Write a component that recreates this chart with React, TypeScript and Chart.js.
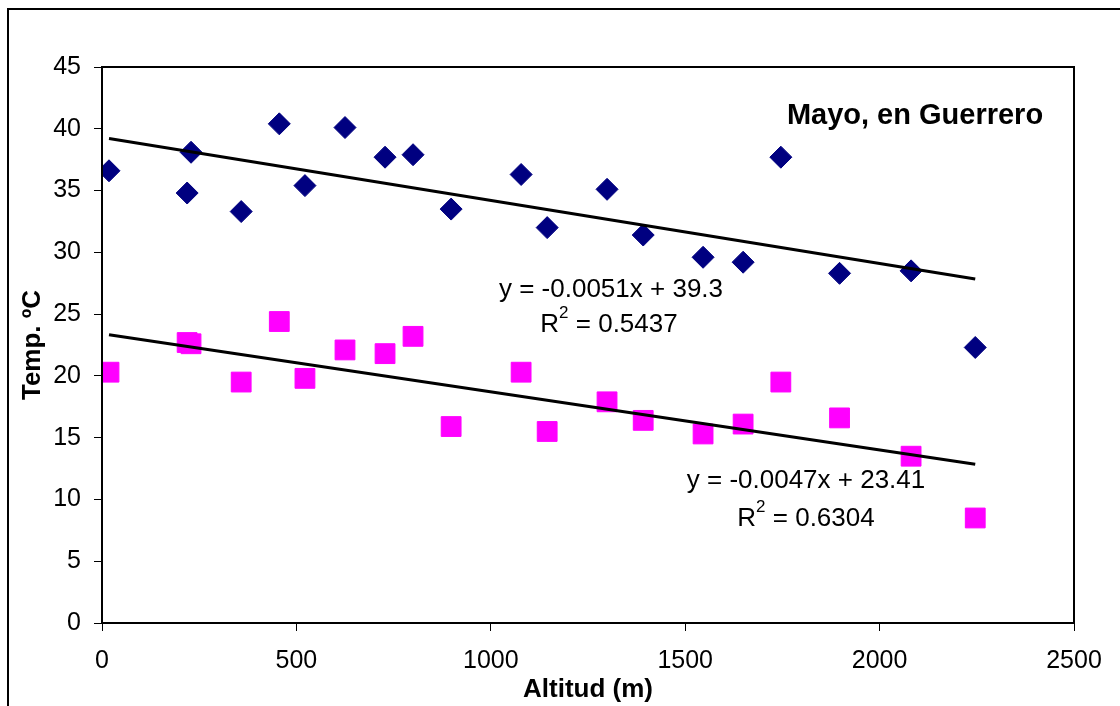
import React, { useEffect, useRef } from "react";
import { Chart, registerables } from "chart.js";

Chart.register(...registerables);

// ---- Data ----
const altitudes = [18, 219, 229, 358, 456, 522, 625, 728, 800, 898, 1078, 1145, 1299, 1392, 1546, 1649, 1746, 1897, 2081, 2246];
const tempHigh = [36.6, 34.8, 38.1, 33.3, 40.4, 35.4, 40.1, 37.7, 37.9, 33.5, 36.3, 32.0, 35.1, 31.4, 29.6, 29.2, 37.7, 28.3, 28.5, 22.3];
const tempLow = [20.3, 22.7, 22.6, 19.5, 24.4, 19.8, 22.1, 21.8, 23.2, 15.9, 20.3, 15.5, 17.9, 16.4, 15.3, 16.1, 19.5, 16.6, 13.5, 8.5];
const trendSlopes = [-0.0051, -0.0047];
const trendIntercepts = [39.3, 23.41];
const trendEquations = ["y = -0.0051x + 39.3", "y = -0.0047x + 23.41"];
const trendR2 = ["0.5437", "0.6304"];
const chartTitle = "Mayo, en Guerrero";
const xAxisTitle = "Altitud (m)";
const yAxisTitle = "Temp. ºC";

const FONT = "'Liberation Sans', Arial, sans-serif";

function trendPoints(i: number) {
  const xs = [Math.min(...altitudes), Math.max(...altitudes)];
  return xs.map((x) => ({ x, y: trendIntercepts[i] + trendSlopes[i] * x }));
}

const labelPos = [
  { eq: [611, 290], r2: [609, 325] },
  { eq: [806, 481], r2: [806, 519] },
];

const decorPlugin = {
  id: "decor",
  afterDraw(chart: any) {
    const ctx = chart.ctx as CanvasRenderingContext2D;
    const a = chart.chartArea;
    ctx.save();
    // outer frame (left and top visible)
    ctx.strokeStyle = "#000";
    ctx.lineWidth = 2;
    ctx.beginPath();
    ctx.moveTo(8, 706);
    ctx.lineTo(8, 9);
    ctx.lineTo(1120, 9);
    ctx.stroke();
    // plot area border
    ctx.lineWidth = 2;
    ctx.strokeRect(a.left, a.top, a.right - a.left, a.bottom - a.top);

    // title
    ctx.fillStyle = "#000";
    ctx.textBaseline = "middle";
    ctx.textAlign = "center";
    ctx.font = `bold 29px ${FONT}`;
    ctx.fillText(chartTitle, 915, 116);

    // equations
    for (let i = 0; i < 2; i++) {
      const p = labelPos[i];
      ctx.font = `26px ${FONT}`;
      ctx.textAlign = "center";
      ctx.fillText(trendEquations[i], p.eq[0], p.eq[1]);
      // R² line
      const main = `26px ${FONT}`;
      const sup = `17px ${FONT}`;
      ctx.font = main;
      const w1 = ctx.measureText("R").width;
      const w3 = ctx.measureText(" = " + trendR2[i]).width;
      ctx.font = sup;
      const w2 = ctx.measureText("2").width;
      let x = p.r2[0] - (w1 + w2 + w3) / 2;
      const y = p.r2[1];
      ctx.textAlign = "left";
      ctx.font = main;
      ctx.fillText("R", x, y);
      x += w1;
      ctx.font = sup;
      ctx.fillText("2", x, y - 12);
      x += w2;
      ctx.font = main;
      ctx.fillText(" = " + trendR2[i], x, y);
    }
    ctx.restore();
  },
};

export default function App() {
  const ref = useRef<HTMLCanvasElement | null>(null);
  useEffect(() => {
    if (!ref.current) return;
    const chart = new Chart(ref.current, {
      type: "scatter",
      data: {
        datasets: [
          {
            label: "Tendencia alta",
            data: trendPoints(0),
            showLine: true,
            borderColor: "#000",
            borderWidth: 3,
            pointRadius: 0,
            order: 0,
          },
          {
            label: "Tendencia baja",
            data: trendPoints(1),
            showLine: true,
            borderColor: "#000",
            borderWidth: 3,
            pointRadius: 0,
            order: 0,
          },
          {
            label: "Temp. máx",
            data: altitudes.map((x, i) => ({ x, y: tempHigh[i] })),
            pointStyle: "rectRot",
            pointRadius: 11,
            backgroundColor: "#000080",
            borderColor: "#000080",
            borderWidth: 1,
            order: 1,
          },
          {
            label: "Temp. mín",
            data: altitudes.map((x, i) => ({ x, y: tempLow[i] })),
            pointStyle: "rect",
            pointRadius: 14,
            backgroundColor: "#FF00FF",
            borderColor: "#FF00FF",
            borderWidth: 1,
            order: 1,
          },
        ],
      },
      options: {
        responsive: false,
        animation: false,
        devicePixelRatio: 1,
        layout: { padding: { left: 0, top: 67, right: 46, bottom: 0 } },
        plugins: {
          legend: { display: false },
          tooltip: { enabled: false },
          title: { display: false },
        },
        scales: {
          x: {
            type: "linear",
            min: 0,
            max: 2500,
            ticks: {
              stepSize: 500,
              color: "#000",
              padding: 15,
              font: { family: FONT, size: 25 },
              maxRotation: 0,
              callback: (v: any) => String(v),
            },
            grid: {
              drawOnChartArea: false,
              drawTicks: true,
              tickLength: 8,
              color: "#000",
              lineWidth: 1,
            },
            border: { display: true, color: "#000", width: 2 },
            title: {
              display: true,
              text: xAxisTitle,
              color: "#000",
              font: { family: FONT, size: 26, weight: "bold" },
              padding: { top: 0, bottom: 1 },
            },
            afterFit: (s: any) => {
              s.height = 83;
            },
          },
          y: {
            type: "linear",
            min: 0,
            max: 45,
            ticks: {
              stepSize: 5,
              color: "#000",
              padding: 13,
              font: { family: FONT, size: 25 },
              callback: (v: any) => String(v),
            },
            grid: {
              drawOnChartArea: false,
              drawTicks: true,
              tickLength: 8,
              color: "#000",
              lineWidth: 1,
            },
            border: { display: true, color: "#000", width: 2 },
            title: {
              display: true,
              text: yAxisTitle,
              color: "#000",
              font: { family: FONT, size: 26, weight: "bold" },
              padding: { top: 17, bottom: 0 },
            },
            afterFit: (s: any) => {
              s.width = 102;
            },
          },
        },
      },
      plugins: [decorPlugin],
    } as any);
    return () => chart.destroy();
  }, []);
  return (
    <div style={{ position: "absolute", left: 0, top: 0, width: 1120, height: 706, background: "#fff" }}>
      <canvas ref={ref} width={1120} height={706} style={{ display: "block" }} />
    </div>
  );
}
